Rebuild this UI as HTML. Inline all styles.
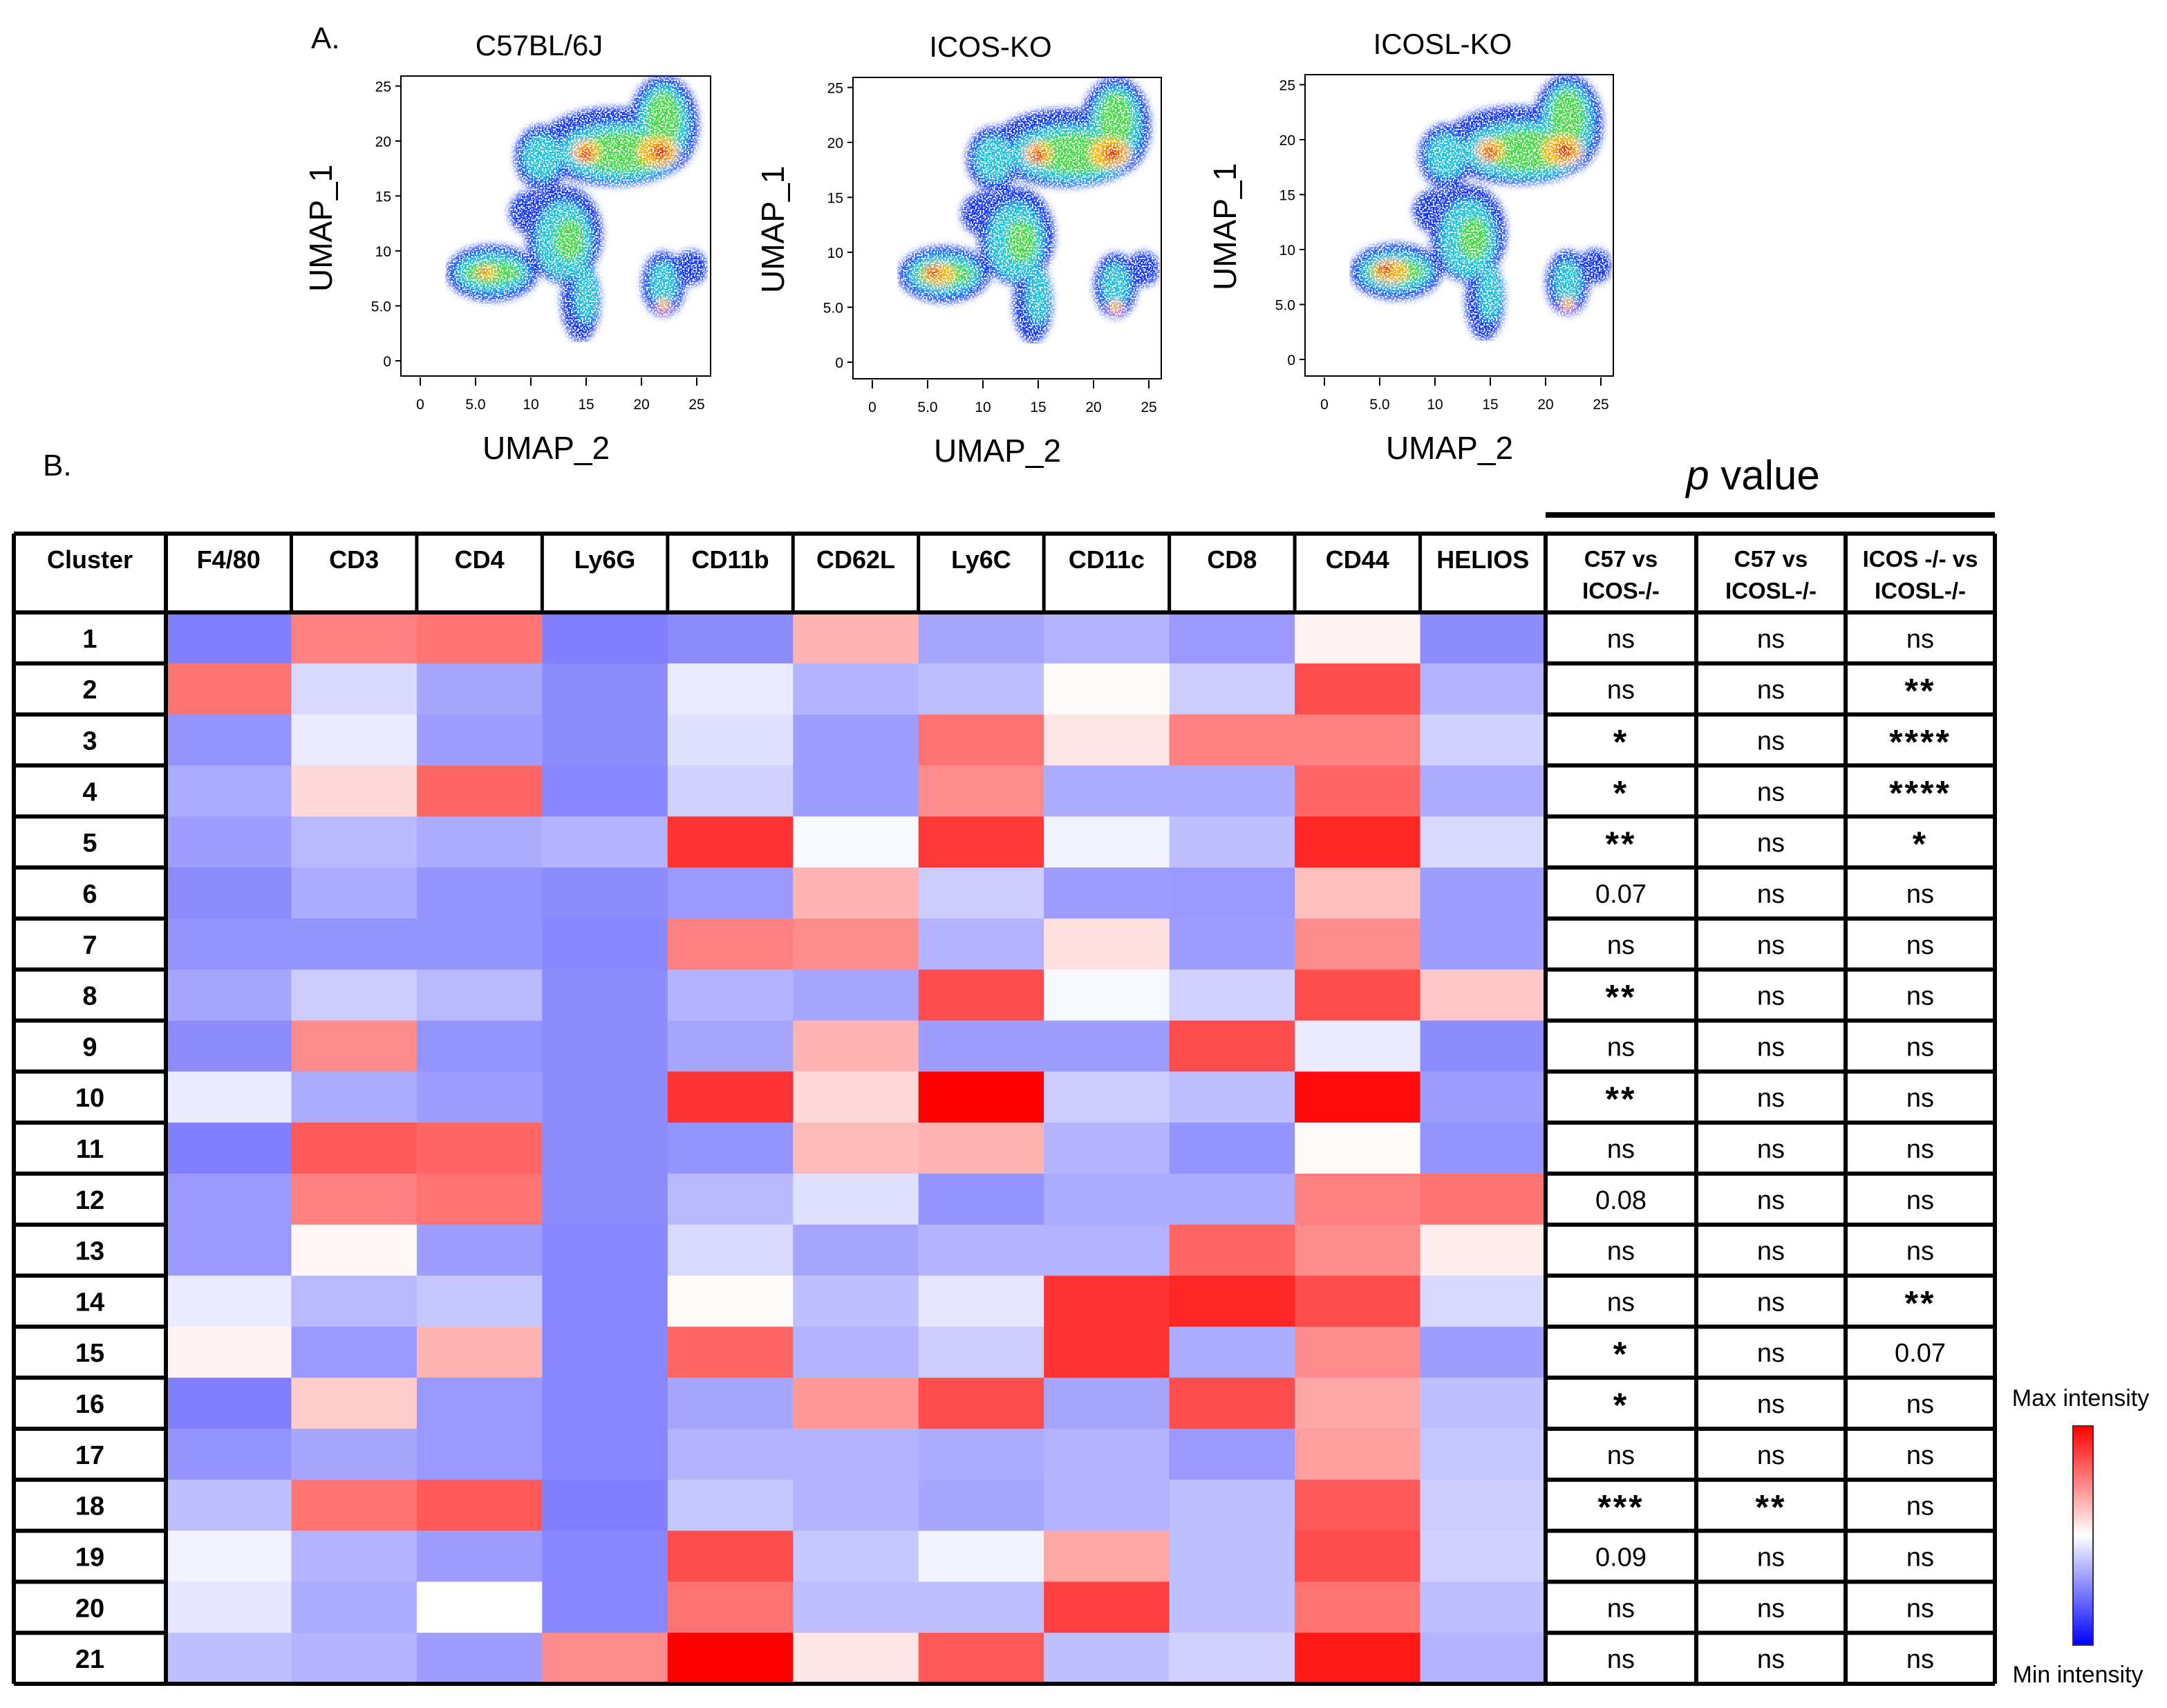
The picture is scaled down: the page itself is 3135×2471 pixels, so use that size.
<!DOCTYPE html>
<html><head><meta charset="utf-8"><style>
html,body{margin:0;padding:0;background:#fff;}
svg{display:block;font-family:"Liberation Sans",sans-serif;}
</style></head><body>
<svg id="fig" width="3135" height="2471" viewBox="0 0 3135 2471" xmlns="http://www.w3.org/2000/svg">
<defs>
<linearGradient id="cbar" x1="0" y1="1" x2="0" y2="0">
<stop offset="0" stop-color="#0000ff"/><stop offset="0.5" stop-color="#ffffff"/><stop offset="1" stop-color="#ff0000"/>
</linearGradient>
<filter id="blur6"><feGaussianBlur stdDeviation="5"/></filter>
<filter id="speck" x="0" y="0" width="100%" height="100%">
<feTurbulence type="fractalNoise" baseFrequency="0.45" numOctaves="1" seed="3" result="n"/>
<feColorMatrix in="n" type="matrix" values="0 0 0 0 0  0 0 0 0 0  0 0 0 0 0  0 0 0 9 -3.6" result="m"/>
<feComposite in="SourceGraphic" in2="m" operator="in"/>
</filter>
</defs>
<g id="umaps"></g>
<g id="heat"></g>
<g id="ptable"></g>
<g id="legend"></g>
</svg>
<script>
const markers = ["F4/80","CD3","CD4","Ly6G","CD11b","CD62L","Ly6C","CD11c","CD8","CD44","HELIOS"];
const clusters = ["1","2","3","4","5","6","7","8","9","10","11","12","13","14","15","16","17","18","19","20","21"];
const r1 = [-0.5,0.5,0.55,-0.5,-0.45,0.3,-0.35,-0.3,-0.4,0.05,-0.45];
const r2 = [0.55,-0.15,-0.35,-0.45,-0.08,-0.3,-0.25,0.02,-0.2,0.7,-0.3];
const r3 = [-0.42,-0.08,-0.38,-0.45,-0.12,-0.38,0.55,0.1,0.5,0.5,-0.18];
const r4 = [-0.33,0.15,0.6,-0.47,-0.18,-0.38,0.45,-0.33,-0.33,0.6,-0.33];
const r5 = [-0.38,-0.28,-0.33,-0.3,0.8,-0.03,0.78,-0.05,-0.25,0.85,-0.15];
const r6 = [-0.45,-0.33,-0.42,-0.45,-0.4,0.3,-0.2,-0.38,-0.4,0.25,-0.38];
const r7 = [-0.42,-0.42,-0.42,-0.47,0.5,0.45,-0.3,0.12,-0.38,0.45,-0.38];
const r8 = [-0.35,-0.2,-0.28,-0.45,-0.3,-0.35,0.7,-0.03,-0.18,0.7,0.22];
const r9 = [-0.45,0.45,-0.42,-0.45,-0.35,0.3,-0.38,-0.38,0.7,-0.08,-0.45];
const r10 = [-0.08,-0.33,-0.38,-0.45,0.8,0.15,1.0,-0.2,-0.25,0.95,-0.38];
const r11 = [-0.5,0.65,0.6,-0.45,-0.42,0.27,0.3,-0.3,-0.42,0.02,-0.42];
const r12 = [-0.4,0.5,0.55,-0.45,-0.28,-0.12,-0.42,-0.33,-0.33,0.5,0.55];
const r13 = [-0.4,0.03,-0.38,-0.47,-0.15,-0.35,-0.3,-0.3,0.6,0.45,0.07];
const r14 = [-0.08,-0.28,-0.22,-0.47,0.02,-0.25,-0.1,0.8,0.85,0.7,-0.15];
const r15 = [0.05,-0.4,0.3,-0.47,0.6,-0.3,-0.2,0.8,-0.33,0.45,-0.38];
const r16 = [-0.5,0.2,-0.4,-0.47,-0.35,0.4,0.7,-0.35,0.7,0.35,-0.25];
const r17 = [-0.42,-0.35,-0.4,-0.47,-0.3,-0.3,-0.33,-0.3,-0.4,0.38,-0.22];
const r18 = [-0.25,0.55,0.65,-0.5,-0.22,-0.3,-0.35,-0.3,-0.25,0.65,-0.2];
const r19 = [-0.05,-0.3,-0.38,-0.47,0.7,-0.22,-0.05,0.35,-0.25,0.7,-0.18];
const r20 = [-0.1,-0.33,0.0,-0.47,0.55,-0.25,-0.25,0.75,-0.25,0.55,-0.25];
const r21 = [-0.25,-0.3,-0.38,0.45,1.0,0.1,0.65,-0.25,-0.18,0.9,-0.3];
const heatValues = [r1,r2,r3,r4,r5,r6,r7,r8,r9,r10,r11,r12,r13,r14,r15,r16,r17,r18,r19,r20,r21];
const pHeaders = [["C57 vs","ICOS-/-"],["C57 vs","ICOSL-/-"],["ICOS -/- vs","ICOSL-/-"]];
const pC57vsICOS = ["ns","ns","*","*","**","0.07","ns","**","ns","**","ns","0.08","ns","ns","*","*","ns","***","0.09","ns","ns"];
const pC57vsICOSL = ["ns","ns","ns","ns","ns","ns","ns","ns","ns","ns","ns","ns","ns","ns","ns","ns","ns","**","ns","ns","ns"];
const pICOSvsICOSL = ["ns","**","****","****","*","ns","ns","ns","ns","ns","ns","ns","ns","**","0.07","ns","ns","ns","ns","ns","ns"];
const panelTitles = ["C57BL/6J","ICOS-KO","ICOSL-KO"];
const umapTicks = [0,5,10,15,20,25];
const umapTickLabels = ["0","5.0","10","15","20","25"];

const NS="http://www.w3.org/2000/svg";
function mk(parent,tag,attrs,text){const e=document.createElementNS(NS,tag);for(const k in attrs)e.setAttribute(k,attrs[k]);if(text!==undefined)e.textContent=text;parent.appendChild(e);return e;}
function color(v){const t=Math.min(1,Math.abs(v));const c=Math.round(255*(1-t));return v>=0?`rgb(255,${c},${c})`:`rgb(${c},${c},255)`;}

const U=document.getElementById('umaps');
const fig=document.getElementById('fig');
let el=mk(fig,'text',{x:450,y:70,'font-size':44});el.textContent='A.';


el=mk(fig,'text',{x:62,y:688,'font-size':44});el.textContent='B.';


const panels=[{x:580,y:110,w:448,h:434,left:0.7},{x:1234,y:112,w:446,h:436,left:1.2},{x:1888,y:108,w:446,h:436,left:1.3}];
panels.forEach((p,i)=>{
  const g=mk(U,'g',{});
  
  
  const sx=v=>p.x+28+v*16; const sy=v=>p.y+412-v*15.9;
  const t=mk(g,'text',{x:p.x+p.w/2-24,y:p.y-30,'font-size':42,'text-anchor':'middle'},panelTitles[i]);
  
  
  mk(g,'path',{d:`M${p.x} ${p.y} H${p.x+p.w} V${p.y+p.h} H${p.x} Z`,fill:'none',stroke:'#000','stroke-width':2});
  const outer=[
    [17.5,19.5,7,3.6],[22,21.5,3.2,4.5],[11,18.5,2.5,3],[13,11.5,3.5,4.5],[10,13.5,2,2],[6.5,8,4.2,2.6],[14.5,5.5,1.8,3.8],[22,7,2,3],[24.5,8.5,1.5,1.6]
  ];
  const inner=[
    [18,19,5.5,2.6,'#18c0d8'],[22,21.5,2.3,3.6,'#18c0d8'],[11,18.5,1.7,2,'#18c0d8'],[13,11,2.5,3.5,'#18c0d8'],[6.5,8,3.3,1.8,'#18c0d8'],[15,6,1,2.5,'#18c0d8'],[22,7,1.2,2,'#18c0d8'],
    [18.5,19,4.2,1.9,'#3cd83c'],[22,22,1.6,2.6,'#3cd83c'],[13.5,11,1.4,2,'#3cd83c'],[6.5,8,2.6,1.1,'#3cd83c'],
    [15,19,1.2,1,'#ffb000'],[21.5,19,1.8,1.3,'#ffb000'],[6,8,1.2*p.left,0.8*p.left,'#f5b000'],[22,5,0.6,0.6,'#ffb000'],
    [15,18.8,0.6,0.6,'#e02000'],[21.7,19,0.8,0.7,'#e02000'],[5.5,8.2,0.5*p.left,0.4*p.left,'#e02000']
  ];
  const sg=mk(g,'g',{filter:'url(#speck)'});
  const og=mk(sg,'g',{filter:'url(#blur6)'});
  outer.forEach(b=>mk(og,'ellipse',{cx:sx(b[0]),cy:sy(b[1]),rx:b[2]*16,ry:b[3]*15.9,fill:'#1030ff'}));
  inner.forEach(b=>mk(og,'ellipse',{cx:sx(b[0]),cy:sy(b[1]),rx:b[2]*16,ry:b[3]*15.9,fill:b[4]}));
  mk(g,'line',{x1:p.x,y1:p.y,x2:p.x,y2:p.y+p.h,stroke:'#000','stroke-width':2});
  umapTicks.forEach((v,k)=>{
    mk(g,'line',{x1:p.x-8,y1:sy(v),x2:p.x,y2:sy(v),stroke:'#000','stroke-width':2});
    mk(g,'text',{x:p.x-14,y:sy(v)+8,'font-size':21,'text-anchor':'end'},umapTickLabels[k]);
    mk(g,'line',{x1:sx(v),y1:p.y+p.h+2,x2:sx(v),y2:p.y+p.h+14,stroke:'#000','stroke-width':2});
    mk(g,'text',{x:sx(v),y:p.y+p.h+48,'font-size':21,'text-anchor':'middle'},umapTickLabels[k]);
  });
  const yl=mk(g,'text',{x:0,y:0,'font-size':46,'text-anchor':'middle',transform:`translate(${p.x-100},${p.y+220}) rotate(-90)`},'UMAP_1');
  
  
  const xl=mk(g,'text',{x:p.x+p.w/2-14,y:p.y+p.h+120,'font-size':46,'text-anchor':'middle'},'UMAP_2');
  
  
});

const H=document.getElementById('heat');
const L=20, CW=220, HX=240, HR=2236, TOP=772, HB=886, BOT=2436;
const colW=(HR-HX)/markers.length, rowH=(BOT-HB)/clusters.length;
const xc=j=>HX+j*colW, yr=i=>HB+i*rowH;
heatValues.forEach((row,i)=>row.forEach((v,j)=>{
  const r=mk(H,'rect',{x:xc(j),y:yr(i),width:colW+0.6,height:rowH+0.6,fill:color(v)});
  
  
}));
markers.forEach((m,j)=>{
  const t=mk(H,'text',{x:xc(j)+colW/2,y:TOP+50,'font-size':36,'font-weight':'bold','text-anchor':'middle'},m);
  
  
  mk(H,'line',{x1:xc(j),y1:TOP,x2:xc(j),y2:HB,stroke:'#000','stroke-width':5});
});
let ct=mk(H,'text',{x:L+CW/2,y:TOP+50,'font-size':36,'font-weight':'bold','text-anchor':'middle'},'Cluster');


mk(H,'line',{x1:L,y1:TOP,x2:HR,y2:TOP,stroke:'#000','stroke-width':6});
mk(H,'line',{x1:L,y1:HB,x2:HR,y2:HB,stroke:'#000','stroke-width':6});
mk(H,'line',{x1:L,y1:TOP,x2:L,y2:BOT,stroke:'#000','stroke-width':6});
mk(H,'line',{x1:HX,y1:TOP,x2:HX,y2:BOT,stroke:'#000','stroke-width':6});
mk(H,'line',{x1:L,y1:BOT,x2:HR,y2:BOT,stroke:'#000','stroke-width':6});
clusters.forEach((c,i)=>{
  if(i>0)mk(H,'line',{x1:L,y1:yr(i),x2:HX,y2:yr(i),stroke:'#000','stroke-width':6});
  const t=mk(H,'text',{x:L+CW/2,y:yr(i)+rowH/2+14,'font-size':38,'font-weight':'bold','text-anchor':'middle'},c);
  
  
});

const P=document.getElementById('ptable');
const PX=[2236,2454,2670,2886];
let pt=mk(P,'text',{x:2536,y:708,'font-size':60,'text-anchor':'middle'});
mk(pt,'tspan',{'font-style':'italic'},'p');
mk(pt,'tspan',{},' value');


mk(P,'line',{x1:2236,y1:745,x2:2886,y2:745,stroke:'#000','stroke-width':8});
const pcols=[pC57vsICOS,pC57vsICOSL,pICOSvsICOSL];
pHeaders.forEach((h,k)=>{
  const cx=(PX[k]+PX[k+1])/2;
  const t=mk(P,'text',{x:cx,y:TOP+48,'font-size':33,'font-weight':'bold','text-anchor':'middle'},h[0]);
  
  
  mk(P,'text',{x:cx,y:TOP+94,'font-size':33,'font-weight':'bold','text-anchor':'middle'},h[1]);
  pcols[k].forEach((s,i)=>{
    const star=s.indexOf('*')>=0;
    const t2=mk(P,'text',{x:cx,y:yr(i)+rowH/2+(star?20:14),'font-size':star?50:38,'font-weight':star?'bold':'normal','text-anchor':'middle','letter-spacing':star?3:0},s);
    
    
  });
});
PX.forEach(x=>mk(P,'line',{x1:x,y1:TOP,x2:x,y2:BOT,stroke:'#000','stroke-width':6}));
mk(P,'line',{x1:2236,y1:TOP,x2:2886,y2:TOP,stroke:'#000','stroke-width':6});
for(let i=0;i<=clusters.length;i++)mk(P,'line',{x1:2236,y1:yr(i),x2:2886,y2:yr(i),stroke:'#000','stroke-width':6});

const G=document.getElementById('legend');
let lt=mk(G,'text',{x:3010,y:2034,'font-size':34,'text-anchor':'middle'},'Max intensity');


const cb=mk(G,'rect',{x:2999,y:2063,width:29,height:317,fill:'url(#cbar)',stroke:'#333','stroke-width':2});


lt=mk(G,'text',{x:3006,y:2434,'font-size':34,'text-anchor':'middle'},'Min intensity');


</script>
</body></html>
